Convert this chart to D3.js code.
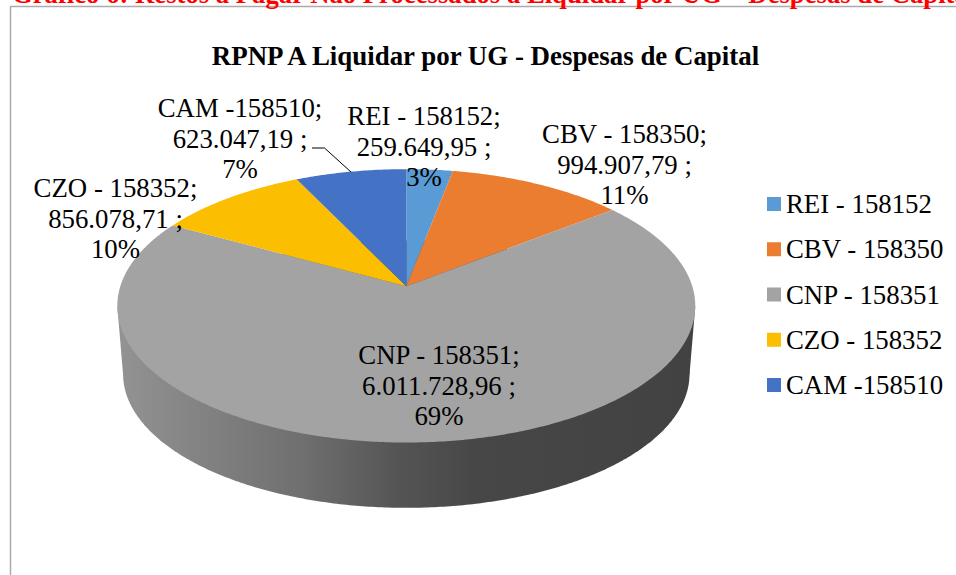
<!DOCTYPE html>
<html>
<head>
<meta charset="utf-8">
<script src="https://cdn.jsdelivr.net/npm/d3@7/dist/d3.min.js"></script>
<style>
html,body{margin:0;padding:0;background:#fff;overflow:hidden}
svg{display:block}
text{font-family:"Liberation Serif",serif;fill:#000}
</style>
</head>
<body>
<svg id="c" width="956" height="575"></svg>
<script>
const categories = ["REI - 158152","CBV - 158350","CNP - 158351","CZO - 158352","CAM -158510"];
const values = [259649.95, 994907.79, 6011728.96, 856078.71, 623047.19];
const colors = ["#5B9BD5","#EB7D30","#A3A3A3","#FBBE00","#4472C4"];
const chartTitle = "RPNP A Liquidar por UG - Despesas de Capital";
const pageHeading = "Gráfico 6: Restos a Pagar Não Processados a Liquidar por UG – Despesas de Capital";
const labelCenters = [[424,125],[624.5,143],[439,364],[115.5,197],[240,117]];

const svg = d3.select("#c");
const numFmt = d3.formatLocale({decimal:",",thousands:".",grouping:[3],currency:["",""]}).format(",.2f");
const pctFmt = d3.format(".0%");
const total = d3.sum(values);

// Perspective projection of the pie's circle
const k = 0.1429;
function project(theta, c){
  const u = Math.sin(theta), v = -Math.cos(theta);
  const d = 1 - k*v;
  return [c.x + c.rx*u/d, c.y + c.ry*v/d];
}
const topFace = {x:406.3, y:286.3, rx:286, ry:133.9};
const baseFace = {x:406.3, y:355, rx:280.3, ry:131};

const arcs = d3.pie().sort(null).value(d=>d)(values);
const line = d3.line();
function sweep(a0,a1,c){
  const n = Math.max(2,Math.ceil(Math.abs(a1-a0)/0.01));
  return d3.range(n+1).map(i=>project(a0+(a1-a0)*i/n,c));
}

// Side wall gradient
const defs = svg.append("defs");
const g = defs.append("linearGradient").attr("id","wall")
  .attr("gradientUnits","userSpaceOnUse").attr("x1",118).attr("x2",695).attr("y1",0).attr("y2",0);
[[0,"#939393"],[0.14,"#838383"],[0.32,"#6f6f6f"],[0.49,"#545454"],[0.62,"#474747"],[1,"#424242"]]
  .forEach(s=>g.append("stop").attr("offset",s[0]).attr("stop-color",s[1]));

// Wall: the base outline joined to the top outline
const full = Math.PI*2;
const basePts = sweep(0,full,baseFace), topPts = sweep(0,full,topFace);
const byX = pts => [d3.least(pts,p=>p[0]), d3.greatest(pts,p=>p[0])];
const [bl,br] = byX(basePts), [tl,tr] = byX(topPts);
svg.append("path").attr("d",line(basePts)+"Z").attr("fill","url(#wall)");
svg.append("path").attr("d",line([tl,bl,br,tr])+"Z").attr("fill","url(#wall)");

// Top-face slices
svg.selectAll("path.slice").data(arcs).join("path").attr("class","slice")
  .attr("d",d=>line([[topFace.x,topFace.y],...sweep(d.startAngle,d.endAngle,topFace)])+"Z")
  .attr("fill",(d,i)=>colors[i]);

// Chart frame
svg.append("path").attr("d","M10.5 575V6.5H956").attr("fill","none").attr("stroke","#aaaaaa").attr("stroke-width",1.5);

// Clipped page heading
svg.append("text").attr("x",12).attr("y",3).attr("font-size",26.7).attr("font-weight","bold")
  .style("fill","#ff0000").text(pageHeading);

// Title
svg.append("text").attr("x",485.5).attr("y",65).attr("text-anchor","middle")
  .attr("font-size",26.9).attr("font-weight","bold").text(chartTitle);

// Leader line for CAM
svg.append("path").attr("d","M312 148H324.5L351 172").attr("fill","none").attr("stroke","#000").attr("stroke-width",1);

// Data labels
const labels = svg.selectAll("g.lab").data(arcs).join("g").attr("class","lab");
labels.each(function(d,i){
  const lines = [categories[i]+";", numFmt(d.value)+" ;", pctFmt(d.value/total)];
  d3.select(this).selectAll("text").data(lines).join("text")
    .attr("x",labelCenters[i][0])
    .attr("y",(t,j)=>labelCenters[i][1]+j*30.5)
    .attr("text-anchor","middle").attr("font-size",26.8).text(t=>t);
});

// Legend
const yLeg = d3.scalePoint().domain(categories).range([204,385]);
const leg = svg.selectAll("g.leg").data(categories).join("g").attr("class","leg")
  .attr("transform",d=>`translate(767,${yLeg(d)})`);
leg.append("rect").attr("x",0).attr("y",-7).attr("width",14).attr("height",14).attr("fill",(d,i)=>colors[i]);
leg.append("text").attr("x",19).attr("y",9).attr("font-size",26.8).text(d=>d);
</script>
</body>
</html>
